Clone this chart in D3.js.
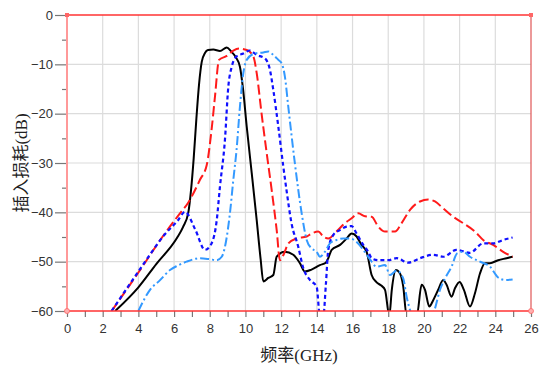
<!DOCTYPE html>
<html>
<head>
<meta charset="utf-8">
<script src="https://cdn.jsdelivr.net/npm/d3@7"></script>
<style>
  html, body { margin: 0; padding: 0; background: #fff; }
  svg { display: block; }
</style>
</head>
<body>
<svg id="chart" width="540" height="369"></svg>
<script>
// Insertion loss (dB) vs frequency (GHz) for four filter responses
const xTicks = [0, 2, 4, 6, 8, 10, 12, 14, 16, 18, 20, 22, 24, 26];
const yTicks = [0, -10, -20, -30, -40, -50, -60];

const blackFreq = [2.7, 4.0, 5.0, 6.16, 6.5, 6.8, 6.95, 7.1, 7.25, 7.4, 7.55, 7.73, 7.9, 8.2, 8.57, 8.95, 9.2, 9.45, 9.69, 9.87, 10.07, 10.35, 10.63, 10.85, 11.0, 11.28, 11.56, 11.75, 12.2, 12.68, 13.05, 13.33, 13.7, 14.17, 14.5, 14.64, 14.83, 15.3, 15.67, 15.95, 16.23, 16.5, 16.79, 17.07, 17.35, 17.63, 17.82, 18.06, 18.2, 18.43, 18.66, 18.84, 19.03, 19.6, 19.87, 20.06, 20.3, 20.52, 20.8, 21.08, 21.27, 21.55, 21.74, 22.0, 22.24, 22.58, 22.86, 23.14, 23.42, 23.7, 24.16, 24.63, 24.97];
const blackLoss = [-60, -55.2, -50.5, -45.2, -43.0, -40.0, -35.5, -29, -21, -14, -9.5, -7.7, -7.1, -7.0, -7.3, -6.6, -7.4, -8.5, -10.5, -15.2, -22.6, -32, -41.6, -49.5, -54, -53.3, -52.7, -49, -48, -48.6, -50.3, -52, -51.6, -50.7, -50.2, -49.3, -47.6, -46.6, -45.3, -44.3, -44.9, -46.6, -48, -52.7, -54.2, -54.9, -55.7, -61, -55.7, -51.7, -52.4, -55, -61, -61, -54.7, -55.7, -59.1, -57.8, -55.7, -53.7, -54.7, -57.1, -55.4, -54.1, -55.7, -59.1, -56.4, -52.4, -50.3, -50.3, -49.7, -49.3, -49.0];

const redFreq = [2.5, 4.0, 5.5, 6.33, 6.78, 7.45, 7.83, 8.1, 8.29, 8.52, 8.95, 9.32, 9.64, 10.07, 10.44, 10.63, 10.9, 11.19, 11.47, 11.75, 11.93, 12.12, 12.4, 12.87, 13.43, 13.7, 14.08, 14.36, 14.64, 15.1, 15.57, 15.95, 16.32, 16.7, 17.07, 17.44, 17.82, 18.38, 18.75, 19.22, 19.78, 20.24, 20.62, 21.08, 21.64, 22.2, 22.86, 23.32, 23.88, 24.44, 24.97];
const redLoss = [-60, -52.2, -44.2, -40.2, -38.1, -33.4, -30.4, -23.3, -16.6, -9.1, -8.3, -7.2, -6.8, -7.1, -8.4, -11.8, -19.9, -28, -35.5, -43.6, -49.7, -48.7, -46.3, -45.3, -44.9, -44.3, -43.9, -44.9, -45.3, -43.9, -42.2, -41.2, -40.2, -40.8, -40.9, -42.9, -43.9, -43.9, -42.2, -39.5, -37.8, -37.4, -37.8, -39.2, -40.9, -42.2, -43.9, -45.6, -46.6, -48, -49.0];

const blueFreq = [2.5, 4.0, 5.5, 6.2, 6.61, 7.2, 7.73, 8.1, 8.39, 8.57, 8.85, 9.04, 9.23, 9.5, 9.88, 10.25, 10.63, 11.09, 11.37, 11.56, 11.84, 12.12, 12.3, 12.58, 12.96, 13.24, 13.61, 13.99, 14.17, 14.36, 14.51, 14.64, 14.92, 15.29, 15.67, 15.95, 16.23, 16.6, 16.88, 17.07, 17.44, 18.0, 18.47, 19.12, 19.78, 20.52, 21.08, 21.83, 22.58, 23.32, 23.88, 24.44, 24.97];
const blueLoss = [-60, -52.0, -44.4, -41.7, -39.9, -43.6, -47.6, -46.3, -41.6, -34.8, -25.3, -14.5, -10.5, -8.4, -7.8, -7.2, -8.1, -8.8, -11.1, -15.2, -22.6, -30.7, -35.5, -42.2, -47, -51.3, -53.7, -55.1, -61, -61, -54.4, -47.6, -44.6, -43.6, -42.9, -42.8, -44.3, -46.6, -48, -49.3, -49.7, -49.7, -49.3, -50.2, -49.3, -48.6, -49, -47.6, -48.2, -46.3, -46.3, -45.6, -45.1];

const cyanFreq = [4.0, 4.65, 5.2, 5.77, 6.2, 6.7, 7.45, 8.0, 8.39, 8.67, 9.13, 9.32, 9.5, 9.69, 9.88, 10.07, 10.53, 11.0, 11.28, 11.56, 11.84, 12.03, 12.21, 12.4, 12.77, 13.15, 13.43, 13.7, 13.99, 14.17, 14.45, 14.73, 15.1, 15.48, 15.85, 16.23, 16.6, 16.97, 17.35, 17.82, 18.1, 18.47, 18.84, 19.03, 19.22, 19.5, 20.3, 20.62, 20.9, 21.18, 21.55, 21.86, 22.2, 22.58, 23.14, 23.7, 24.16, 24.54, 24.97];
const cyanLoss = [-60, -55.7, -53.8, -51.7, -50.8, -50, -49.3, -49.5, -49.7, -49, -40.2, -33.4, -27.4, -18.6, -11.8, -9.1, -7.8, -7.6, -7.4, -8.1, -9.1, -9.8, -12.5, -18.6, -30.1, -40.2, -45.6, -47.3, -48, -49, -48, -46.3, -45.6, -45.3, -45.3, -46, -47.6, -49.5, -51, -50.7, -52.7, -51.8, -53.4, -57.1, -59.8, -63, -63, -59.5, -55.7, -53.4, -51, -48.3, -48, -49, -50, -51, -53.2, -53.7, -53.6];

const series = [
  { freq: blackFreq, loss: blackLoss, color: "#000000", dash: null, width: 2 },
  { freq: redFreq, loss: redLoss, color: "#ff1a1a", dash: "10,4", width: 2 },
  { freq: blueFreq, loss: blueLoss, color: "#1010ff", dash: "4,3", width: 2.2 },
  { freq: cyanFreq, loss: cyanLoss, color: "#3399ff", dash: "9,3,2,3", width: 2 }
];

const svg = d3.select("#chart");
const margin = { left: 67, right: 9, top: 15, bottom: 58 };
const W = 540, H = 369;
const iw = W - margin.left - margin.right;
const ih = H - margin.top - margin.bottom;

const x = d3.scaleLinear().domain([0, 26]).range([margin.left, margin.left + iw]);
const y = d3.scaleLinear().domain([-60, 0]).range([margin.top + ih, margin.top]);

// grid
const grid = svg.append("g");
grid.selectAll("line.v").data(xTicks.filter(d => d > 0 && d < 26)).join("line")
  .attr("x1", d => x(d)).attr("x2", d => x(d))
  .attr("y1", y(0)).attr("y2", y(-60))
  .attr("stroke", "#dcdcdc").attr("stroke-width", 1.2);
grid.selectAll("line.h").data(yTicks.filter(d => d < 0 && d > -60)).join("line")
  .attr("x1", x(0)).attr("x2", x(26))
  .attr("y1", d => y(d)).attr("y2", d => y(d))
  .attr("stroke", "#dcdcdc").attr("stroke-width", 1.2);

// x axis (ticks every 1 GHz, labels every 2 GHz)
const xAxis = d3.axisBottom(x)
  .tickValues(d3.range(0, 27, 1))
  .tickSize(6).tickPadding(7)
  .tickFormat(d => (d % 2 === 0 ? d : ""));
const gx = svg.append("g").attr("transform", `translate(0,${y(-60)})`).call(xAxis);
gx.select(".domain").remove();
gx.selectAll(".tick line").attr("stroke", "#777").attr("stroke-width", 1.2);
gx.selectAll(".tick text").attr("fill", "#333").style("font-family", "Liberation Sans, Arial, sans-serif").style("font-size", "13px");

// y axis: major ticks with labels, minor ticks between
const yAxis = d3.axisLeft(y).tickValues(yTicks).tickSize(12).tickPadding(2).tickFormat(d3.format("d"));
const gy = svg.append("g").attr("transform", `translate(${x(0)},0)`).call(yAxis);
gy.select(".domain").remove();
gy.selectAll(".tick line").attr("stroke", "#777").attr("stroke-width", 1.2);
gy.selectAll(".tick text").attr("fill", "#333").style("font-family", "Liberation Sans, Arial, sans-serif").style("font-size", "13px");
const yMinor = d3.axisLeft(y).tickValues([-5, -15, -25, -35, -45, -55]).tickSize(5).tickFormat("");
const gym = svg.append("g").attr("transform", `translate(${x(0)},0)`).call(yMinor);
gym.select(".domain").remove();
gym.selectAll(".tick line").attr("stroke", "#777").attr("stroke-width", 1.2);

// curves clipped to the plot area
svg.append("clipPath").attr("id", "plotClip").append("rect")
  .attr("x", x(0)).attr("y", y(0)).attr("width", iw).attr("height", ih);

const line = d3.line().curve(d3.curveMonotoneX);
const curves = svg.append("g").attr("clip-path", "url(#plotClip)");
series.forEach(s => {
  const pts = s.freq.map((f, i) => [x(f), y(s.loss[i])]);
  curves.append("path")
    .attr("d", line(pts))
    .attr("fill", "none")
    .attr("stroke", s.color)
    .attr("stroke-width", s.width)
    .attr("stroke-linejoin", "round")
    .attr("stroke-dasharray", s.dash);
});

// frame
const frame = svg.append("g");
frame.append("line").attr("x1", x(0)).attr("x2", x(26)).attr("y1", y(0)).attr("y2", y(0))
  .attr("stroke", "#ff3333").attr("stroke-width", 1.5);
frame.append("line").attr("x1", x(0)).attr("x2", x(26)).attr("y1", y(-60)).attr("y2", y(-60))
  .attr("stroke", "#ff3333").attr("stroke-width", 1.5);
frame.append("line").attr("x1", x(0)).attr("x2", x(0)).attr("y1", y(0)).attr("y2", y(-60))
  .attr("stroke", "#ff9999").attr("stroke-width", 2);
frame.append("line").attr("x1", x(26)).attr("x2", x(26)).attr("y1", y(0)).attr("y2", y(-60))
  .attr("stroke", "#e05555").attr("stroke-width", 1.2);
frame.selectAll("circle").data([[0, -60], [26, -60]]).join("circle")
  .attr("cx", d => x(d[0])).attr("cy", d => y(d[1])).attr("r", 2.5)
  .attr("fill", "#ffb0b0").attr("stroke", "#ff6666").attr("stroke-width", 0.8);
frame.selectAll("rect").data([[0, 0], [26, 0]]).join("rect")
  .attr("x", d => x(d[0]) - 2).attr("y", d => y(d[1]) - 2).attr("width", 4).attr("height", 4)
  .attr("fill", "#ff6666");

// axis titles
svg.append("text")
  .attr("x", (x(0) + x(26)) / 2).attr("y", 361)
  .attr("text-anchor", "middle")
  .style("font-family", "Liberation Serif, Noto Sans CJK SC, serif")
  .style("font-size", "17px").attr("fill", "#222")
  .text("频率(GHz)");
svg.append("text")
  .attr("transform", `translate(27,${(y(0) + y(-60)) / 2}) rotate(-90)`)
  .attr("text-anchor", "middle")
  .style("font-family", "Liberation Serif, Noto Sans CJK SC, serif")
  .style("font-size", "17px").attr("fill", "#222")
  .text("插入损耗(dB)");
</script>
</body>
</html>
